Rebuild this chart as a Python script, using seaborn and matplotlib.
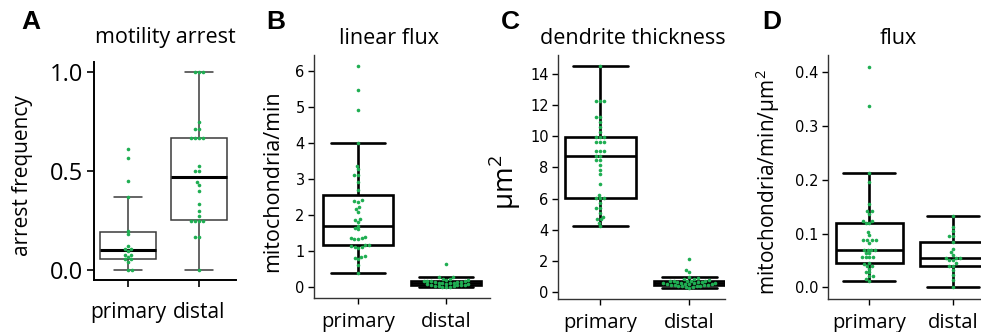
import numpy as np
import pandas as pd
import matplotlib
matplotlib.use("Agg")
import matplotlib.pyplot as plt
import seaborn as sns

categories = ["primary", "distal"]

# A: motility arrest (arrest frequency)
arrest_primary = [0.0, 0.0, 0.042, 0.054, 0.054, 0.066, 0.076, 0.076, 0.096,
                  0.105, 0.105, 0.123, 0.181, 0.2, 0.368, 0.453, 0.569, 0.612]
arrest_distal = [0.0, 0.167, 0.167, 0.25, 0.25, 0.25, 0.25, 0.273, 0.3, 0.333,
                 0.4, 0.429, 0.444, 0.5, 0.5, 0.529, 0.667, 0.667, 0.667, 0.667,
                 0.714, 0.714, 0.75, 1.0, 1.0, 1.0]

# B: linear flux (mitochondria/min)
linflux_primary = [0.40, 0.62, 0.78, 0.82, 0.85, 0.87, 1.08, 1.10, 1.12, 1.15,
                   1.17, 1.17, 1.33, 1.34, 1.35, 1.36, 1.40, 1.60, 1.63, 1.70,
                   1.80, 1.86, 1.88, 2.09, 2.17, 2.23, 2.37, 2.38, 2.42, 2.68,
                   2.92, 3.12, 3.12, 3.28, 3.37, 4.00, 4.92, 5.47, 6.13]
linflux_distal = [0.00, 0.01, 0.02, 0.03, 0.03, 0.04, 0.05, 0.05, 0.05, 0.06,
                  0.08, 0.09, 0.10, 0.11, 0.12, 0.13, 0.13, 0.14, 0.15, 0.15,
                  0.16, 0.17, 0.18, 0.18, 0.19, 0.20, 0.22, 0.24, 0.27, 0.29,
                  0.64]

# C: dendrite thickness (um^2)
thick_primary = [4.26, 4.47, 4.67, 4.67, 4.83, 5.07, 5.37, 5.37, 5.75, 6.05,
                 6.05, 6.05, 6.26, 6.92, 7.56, 7.86, 8.16, 8.46, 8.46, 8.73,
                 8.73, 9.03, 9.03, 9.03, 9.63, 9.63, 9.63, 9.95, 9.95, 9.95,
                 10.27, 10.59, 10.91, 11.25, 11.25, 12.25, 12.25, 12.25, 14.47]
thick_distal = [0.27, 0.32, 0.36, 0.38, 0.40, 0.42, 0.43, 0.44, 0.45, 0.46,
                0.48, 0.50, 0.52, 0.53, 0.55, 0.57, 0.59, 0.60, 0.62, 0.64,
                0.66, 0.68, 0.70, 0.72, 0.73, 0.74, 0.75, 0.78, 0.82, 0.86,
                0.90, 0.95, 1.30, 1.45, 2.13]

# D: flux (mitochondria/min/um^2)
flux_primary = [0.012, 0.016, 0.021, 0.021, 0.028, 0.028, 0.035, 0.040, 0.040,
                0.044, 0.046, 0.056, 0.056, 0.056, 0.056, 0.063, 0.063, 0.069,
                0.069, 0.069, 0.069, 0.083, 0.088, 0.088, 0.088, 0.088, 0.097,
                0.103, 0.119, 0.119, 0.123, 0.123, 0.136, 0.141, 0.141, 0.155,
                0.195, 0.212, 0.338, 0.410]
flux_distal = [0.000, 0.014, 0.023, 0.032, 0.040, 0.040, 0.045, 0.050, 0.050,
               0.054, 0.054, 0.054, 0.061, 0.066, 0.071, 0.084, 0.095, 0.095,
               0.105, 0.113, 0.133]

titles = ["motility arrest", "linear flux", "dendrite thickness", "flux"]
ylabels = ["arrest frequency", "mitochondria/min", "μm$^2$", "mitochondria/min/μm$^2$"]
panel_letters = ["A", "B", "C", "D"]

sns.set_style("ticks")
plt.rcParams["font.family"] = ["Open Sans", "DejaVu Sans"]
plt.rcParams["mathtext.fontset"] = "custom"
plt.rcParams["mathtext.rm"] = "Open Sans"
for key in ["text.color", "axes.labelcolor", "xtick.color", "ytick.color",
            "axes.edgecolor"]:
    plt.rcParams[key] = "black"

GREEN = "#1fae52"
W, H = 981, 332


def make_df(p, d):
    return pd.DataFrame({"region": ["primary"] * len(p) + ["distal"] * len(d),
                         "value": list(p) + list(d)})


def px_axes(left, right, top, bottom):
    return [left / W, 1 - bottom / H, (right - left) / W, (bottom - top) / H]


fig = plt.figure(figsize=(W / 100, H / 100), dpi=100)

specs = [
    dict(rect=px_axes(94, 236, 62, 280), data=(arrest_primary, arrest_distal),
         ylim=(-0.05, 1.053), xlim=(-0.48, 1.52), yticks=[0.0, 0.5, 1.0],
         fmt="{:.1f}", style="thin", title_x=165, letter_x=21, ylab_x=33,
         ylab_size=15),
    dict(rect=px_axes(314.3, 490, 55, 297.7), data=(linflux_primary, linflux_distal),
         ylim=(-0.29, 6.43), xlim=(-0.5, 1.5), yticks=list(range(0, 7)),
         fmt="{:d}", style="bold", title_x=389, letter_x=266, ylab_x=283,
         ylab_size=15.5),
    dict(rect=px_axes(558.3, 725, 55, 299), data=(thick_primary, thick_distal),
         ylim=(-0.43, 15.2), xlim=(-0.47, 1.40), yticks=list(range(0, 15, 2)),
         fmt="{:d}", style="bold", title_x=633, letter_x=501, ylab_x=523,
         ylab_size=20),
    dict(rect=px_axes(828.3, 991, 55, 299), data=(flux_primary, flux_distal),
         ylim=(-0.0217, 0.432), xlim=(-0.49, 1.45), yticks=[0.0, 0.1, 0.2, 0.3, 0.4],
         fmt="{:.1f}", style="bold", title_x=898, letter_x=762, ylab_x=782,
         ylab_size=15),
]

for i, sp in enumerate(specs):
    ax = fig.add_axes(sp["rect"])
    df = make_df(*sp["data"])
    if sp["style"] == "thin":
        sns.boxplot(data=df, x="region", y="value", order=categories, width=0.8,
                    color="white", linecolor="#3a3a3a", linewidth=1.1,
                    showfliers=False, ax=ax,
                    medianprops=dict(color="black", linewidth=2.2))
    else:
        sns.boxplot(data=df, x="region", y="value", order=categories, width=0.8,
                    color="white", linecolor="black", linewidth=1.9,
                    showfliers=False, ax=ax, capwidths=0.62)
    sns.swarmplot(data=df, x="region", y="value", order=categories, color=GREEN,
                  size=2.6, ax=ax, zorder=4)
    ax.set_xlim(*sp["xlim"])
    ax.set_ylim(*sp["ylim"])
    ax.set_yticks(sp["yticks"])
    ax.set_yticklabels([sp["fmt"].format(v) for v in sp["yticks"]])
    ax.set_xlabel("")
    ax.set_ylabel(ylabels[i], fontsize=sp["ylab_size"])
    ax.yaxis.set_label_coords((sp["ylab_x"] - sp["rect"][0] * W) / (sp["rect"][2] * W), 0.48)
    sns.despine(ax=ax)
    if sp["style"] == "thin":
        ax.tick_params(axis="y", labelsize=17, length=5, width=1.2, pad=3)
        ax.tick_params(axis="x", labelsize=15, length=5, width=1.2, pad=11)
        for s in ax.spines.values():
            s.set_linewidth(1.4)
            s.set_color("black")
    else:
        ax.tick_params(axis="y", labelsize=10.5, length=4, width=1.0, pad=3)
        ax.tick_params(axis="x", labelsize=14.5, length=4, width=1.0, pad=6)
        for lab in ax.get_yticklabels():
            lab.set_fontfamily("DejaVu Sans")
        for s in ax.spines.values():
            s.set_linewidth(1.0)
            s.set_color("#333333")
    fig.text(sp["title_x"] / W, 1 - 38 / H, titles[i], ha="center", va="center",
             fontsize=15.5)
    fig.text(sp["letter_x"] / W, 1 - 29 / H, panel_letters[i], ha="left",
             va="baseline", fontsize=19, fontweight="bold", family="Liberation Sans")

fig.savefig("out.png", dpi=100)
